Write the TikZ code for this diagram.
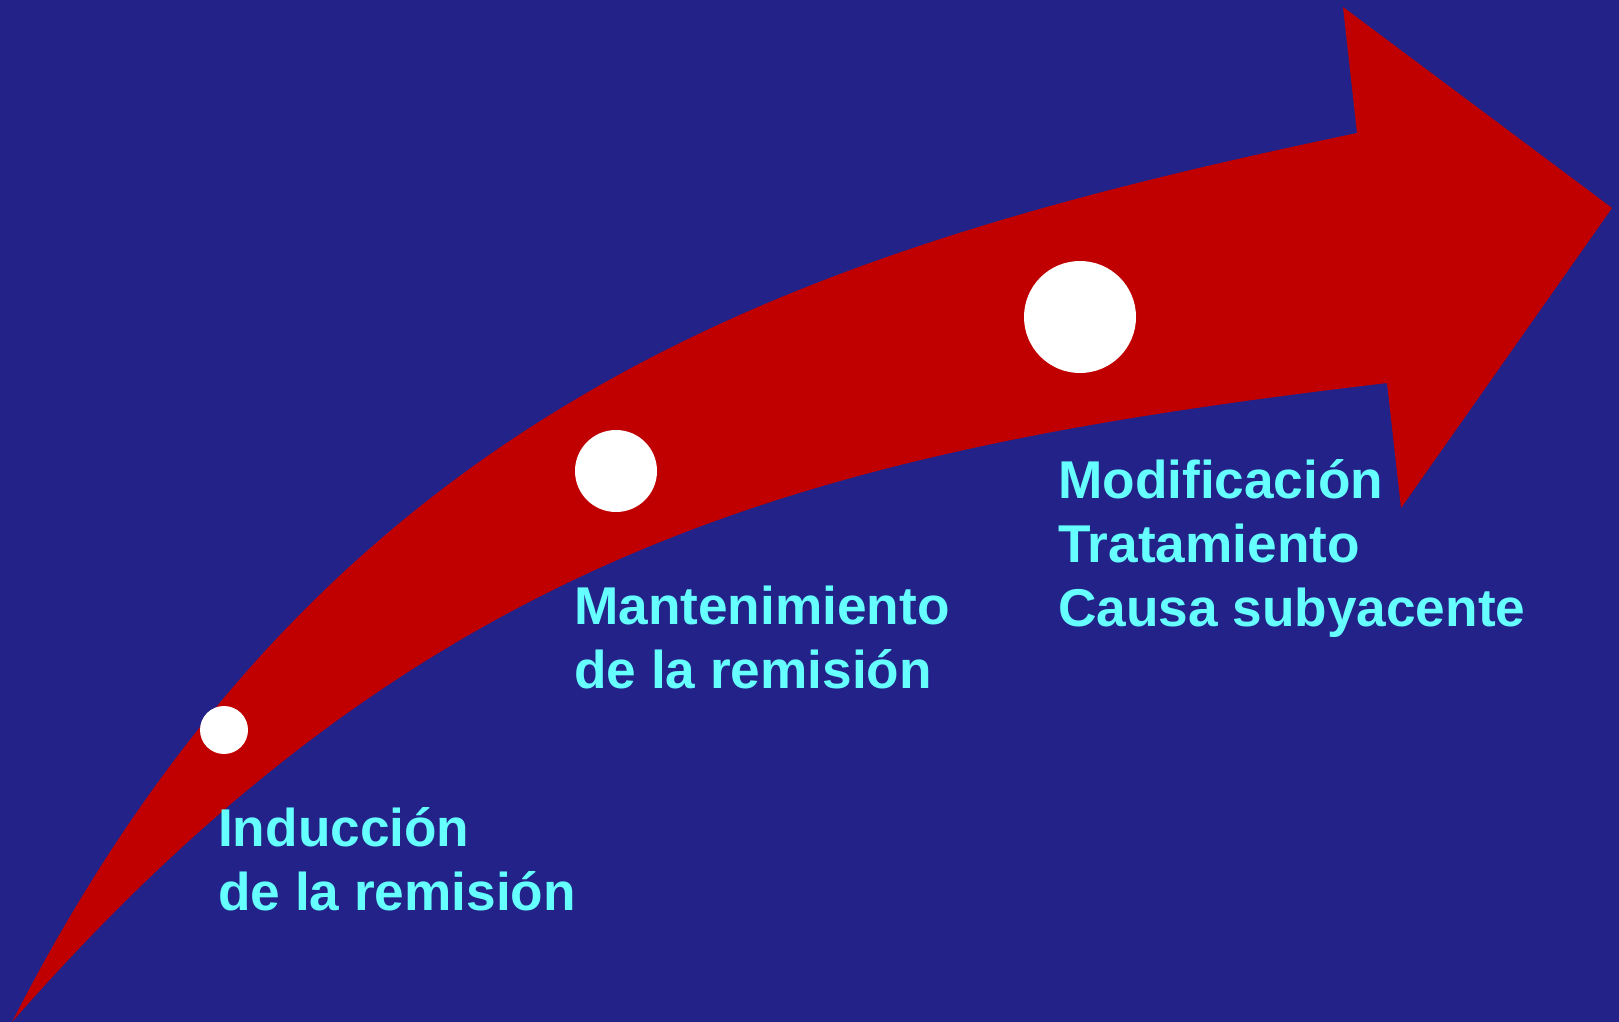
\documentclass[tikz,border=0pt]{standalone}
\usepackage{fontspec}
\setmainfont{Liberation Sans}
\usetikzlibrary{positioning}

\definecolor{slidebg}{RGB}{34,34,136}
\definecolor{arrowred}{RGB}{192,0,0}
\definecolor{labelcyan}{RGB}{102,255,255}

\begin{document}
\begin{tikzpicture}[x=1pt, y=-1pt,
    band/.style={fill=arrowred, draw=none},
    stage/.style={circle, fill=white, draw=none, inner sep=0pt},
    phase/.style={font=\fontsize{53.2}{64}\selectfont\bfseries, text=labelcyan,
                  align=left, anchor=base west, inner sep=0pt},
]
\fill[slidebg] (0,0) rectangle (1619,1022);
\useasboundingbox (0,0) rectangle (1619,1022);

% curved arrow
\path[band] (12,1022) .. controls (330,400) and (800,250) .. (1357,133)
    -- (1343,7) -- (1612,208) -- (1401,508) -- (1387,383)
    .. controls (820,450) and (430,545) .. (12,1022) -- cycle;

\node[stage, minimum size=48pt]  (induc) at (224,730) {};
\node[stage, minimum size=82pt]  (mante) at (616,471) {};
\node[stage, minimum size=112pt] (modif) at (1080,317) {};

% base = last line
\node[phase] (inducL) at (218,910) {Inducción\\de la remisión};
\node[phase] (manteL) at (574,688) {Mantenimiento\\de la remisión};
\node[phase] (modifL) at (1058,626) {Modificación\\Tratamiento\\Causa subyacente};
\end{tikzpicture}
\end{document}
